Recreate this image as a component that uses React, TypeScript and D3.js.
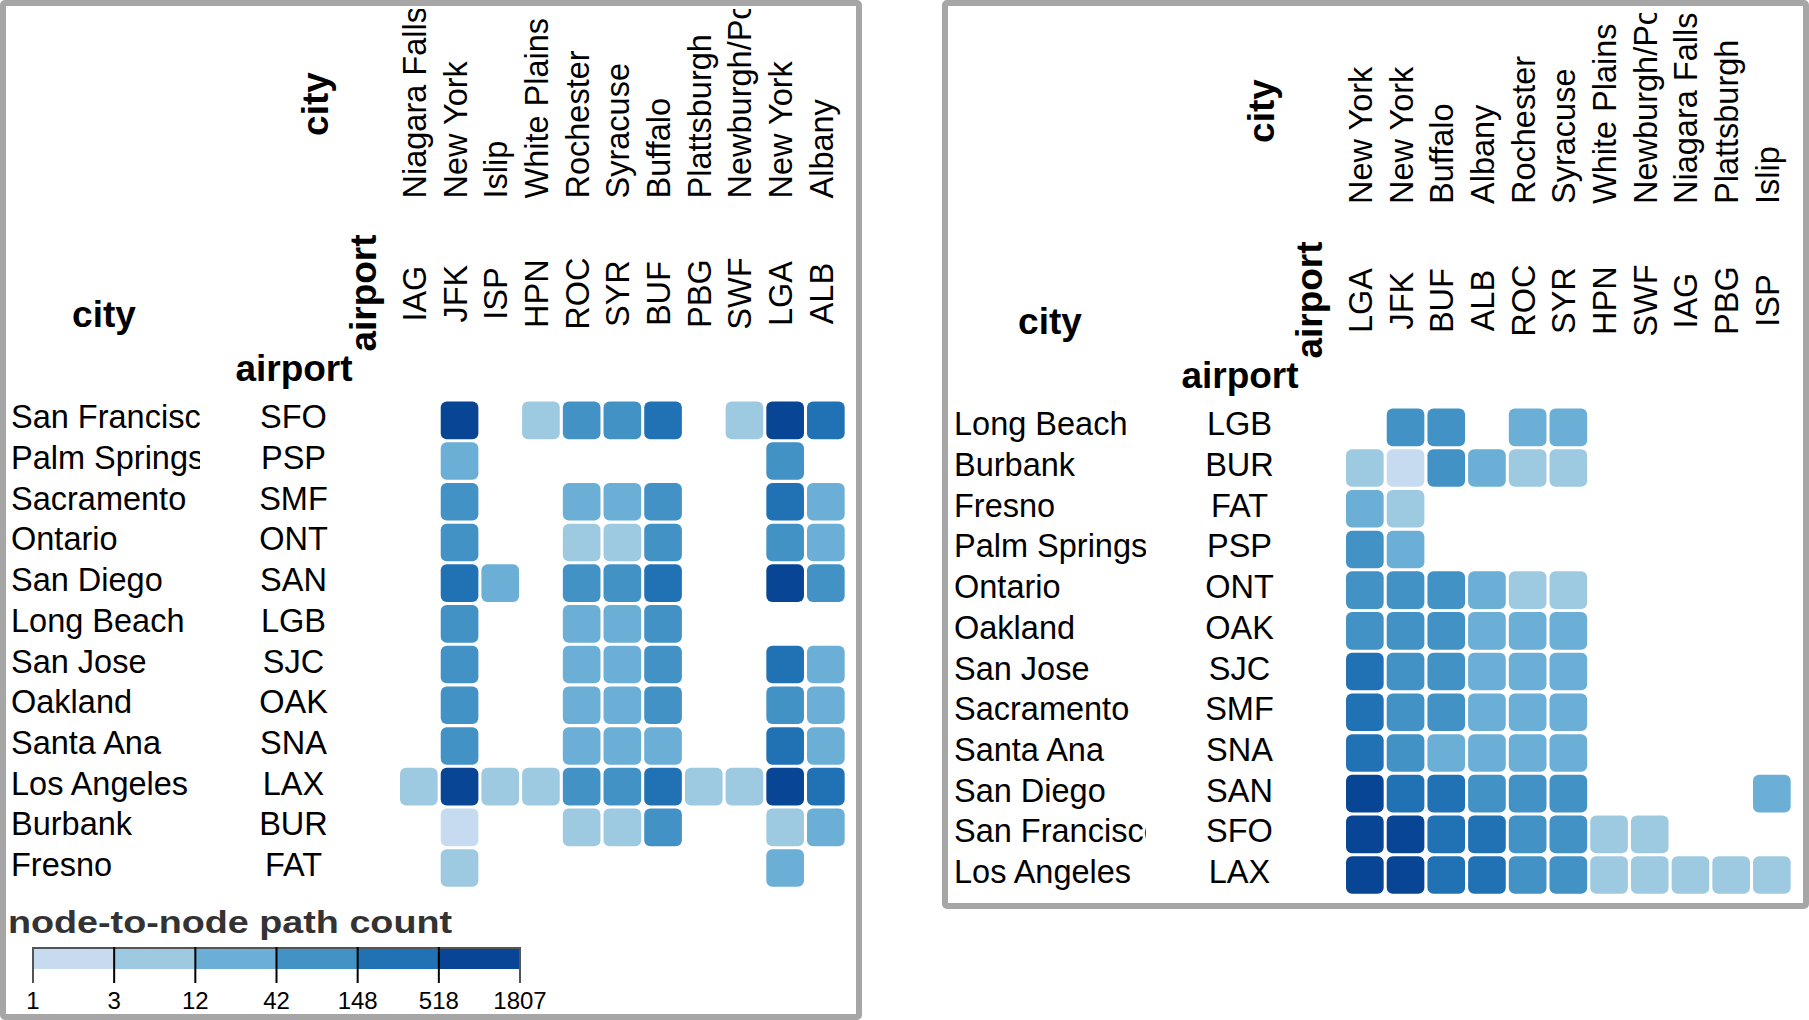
import * as d3 from "d3";

// destination airports (New York) and their cities
const nyAirports = ["LGA", "JFK", "BUF", "ALB", "ROC", "SYR", "HPN", "SWF", "IAG", "PBG", "ISP"];
const nyCities = ["New York", "New York", "Buffalo", "Albany", "Rochester", "Syracuse", "White Plains", "Newburgh/Poughkeepsie", "Niagara Falls", "Plattsburgh", "Islip"];

// origin airports (California) and their cities
const caAirports = ["LAX", "SFO", "SAN", "SNA", "SMF", "SJC", "OAK", "ONT", "PSP", "FAT", "BUR", "LGB"];
const caCities = ["Los Angeles", "San Francisco", "San Diego", "Santa Ana", "Sacramento", "San Jose", "Oakland", "Ontario", "Palm Springs", "Fresno", "Burbank", "Long Beach"];

// path counts: one row per caAirports entry, columns follow nyAirports (0 = no path)
const pathCounts = [
  [1807, 1520, 410, 330, 128, 112, 9, 7, 5, 4, 10],
  [1290, 1100, 300, 250, 96, 84, 6, 5, 0, 0, 0],
  [640, 410, 280, 130, 95, 78, 0, 0, 0, 0, 16],
  [360, 110, 36, 30, 26, 22, 0, 0, 0, 0, 0],
  [300, 92, 70, 34, 28, 24, 0, 0, 0, 0, 0],
  [270, 88, 64, 30, 25, 21, 0, 0, 0, 0, 0],
  [140, 120, 66, 32, 27, 23, 0, 0, 0, 0, 0],
  [96, 80, 58, 18, 10, 8, 0, 0, 0, 0, 0],
  [52, 24, 0, 0, 0, 0, 0, 0, 0, 0, 0],
  [20, 8, 0, 0, 0, 0, 0, 0, 0, 0, 0],
  [9, 2, 45, 14, 7, 6, 0, 0, 0, 0, 0],
  [0, 60, 50, 0, 16, 13, 0, 0, 0, 0, 0],
];

// orderings of the two views
const leftRows = ["SFO", "PSP", "SMF", "ONT", "SAN", "LGB", "SJC", "OAK", "SNA", "LAX", "BUR", "FAT"];
const leftCols = ["IAG", "JFK", "ISP", "HPN", "ROC", "SYR", "BUF", "PBG", "SWF", "LGA", "ALB"];
const rightRows = ["LGB", "BUR", "FAT", "PSP", "ONT", "OAK", "SJC", "SMF", "SNA", "SAN", "SFO", "LAX"];
const rightCols = ["LGA", "JFK", "BUF", "ALB", "ROC", "SYR", "HPN", "SWF", "IAG", "PBG", "ISP"];

// legend break values
const legendTicks = [1, 3, 12, 42, 148, 518, 1807];

const FONT = "'Liberation Sans', Arial, Helvetica, sans-serif";
const LABEL = 32.5;
const HEAD = 37;
const blues = d3.schemeBlues[7].slice(1);
const color = d3.scaleThreshold<number, string>().domain(legendTicks.slice(1, -1)).range(blues);

const count = (ca: string, ny: string) =>
  pathCounts[caAirports.indexOf(ca)][nyAirports.indexOf(ny)];

function Matrix({ id, ox, oy, rows, cols, cityX, colCityY, clipTop }) {
  const gridX = 400;
  const gridY = 401.5;
  const step = 40.7;

  const x = d3
    .scaleBand()
    .domain(cols)
    .range([gridX - 1.5, gridX - 1.5 + cols.length * step])
    .paddingInner(0.075)
    .paddingOuter(0.0375);
  const y = d3
    .scaleBand()
    .domain(rows)
    .range([gridY - 1.5, gridY - 1.5 + rows.length * step])
    .paddingInner(0.075)
    .paddingOuter(0.0375);
  const bw = x.bandwidth();

  return (
    <g transform={`translate(${ox}, ${oy})`} fontFamily={FONT}>
      <defs>
        <clipPath id={`${id}-rowclip`}>
          <rect x={0} y={0} width={gridX - 200} height={1000} />
        </clipPath>
        <clipPath id={`${id}-colclip`}>
          <rect x={0} y={clipTop} width={1000} height={1000} />
        </clipPath>
      </defs>

      {/* headers */}
      <text x={104} y={327} textAnchor="middle" fontSize={HEAD} fontWeight="bold">city</text>
      <text x={294} y={381} textAnchor="middle" fontSize={HEAD} fontWeight="bold">airport</text>
      <text transform={`translate(327.5, 104) rotate(-90)`} textAnchor="middle" fontSize={HEAD} fontWeight="bold">city</text>
      <text transform={`translate(376, 293) rotate(-90)`} textAnchor="middle" fontSize={HEAD} fontWeight="bold">airport</text>

      {/* row labels */}
      <g clipPath={`url(#${id}-rowclip)`}>
        {rows.map((r) => (
          <text key={r} x={cityX} y={y(r) + bw / 2 + 8} fontSize={LABEL}>
            {caCities[caAirports.indexOf(r)]}
          </text>
        ))}
      </g>
      {rows.map((r) => (
        <text key={r} x={293.5} y={y(r) + bw / 2 + 8} fontSize={LABEL} textAnchor="middle">
          {r}
        </text>
      ))}

      {/* column labels */}
      <g clipPath={`url(#${id}-colclip)`}>
        {cols.map((c) => (
          <text key={c} transform={`translate(${x(c) + bw / 2 + 7}, ${colCityY}) rotate(-90)`} fontSize={LABEL}>
            {nyCities[nyAirports.indexOf(c)]}
          </text>
        ))}
      </g>
      {cols.map((c) => (
        <text key={c} transform={`translate(${x(c) + bw / 2 + 7}, 293.6) rotate(-90)`} fontSize={LABEL} textAnchor="middle">
          {c}
        </text>
      ))}

      {/* cells */}
      {rows.map((r) =>
        cols.map((c) => {
          const v = count(r, c);
          if (!v) return null;
          return (
            <rect key={r + c} x={x(c)} y={y(r)} width={bw} height={y.bandwidth()} rx={6} fill={color(v)} />
          );
        })
      )}
    </g>
  );
}

function Legend() {
  const lx = d3.scalePoint().domain(legendTicks.map(String)).range([33, 520]);
  const top = 948;
  return (
    <g fontFamily={FONT}>
      <text x={8} y={933} fontSize={32} fontWeight="bold" fill="#333" textLength={444} lengthAdjust="spacingAndGlyphs">
        node-to-node path count
      </text>
      {blues.map((b, i) => (
        <rect key={b} x={lx(String(legendTicks[i]))} y={top} width={lx(String(legendTicks[i + 1])) - lx(String(legendTicks[i]))} height={21} fill={b} />
      ))}
      <line x1={33} x2={520} y1={top} y2={top} stroke="#555" strokeWidth={2} />
      {legendTicks.map((t, i) => {
        const px = lx(String(t));
        const end = i === 0 || i === legendTicks.length - 1;
        return (
          <g key={t}>
            <line x1={px} x2={px} y1={top - 1} y2={983} stroke={end ? "#555" : "#000"} strokeWidth={2} />
            <text x={px} y={1009} textAnchor="middle" fontSize={24}>
              {t}
            </text>
          </g>
        );
      })}
    </g>
  );
}

export default function App() {
  return (
    <svg width={1809} height={1020} style={{ position: "absolute", left: 0, top: 0, background: "#fff" }}>
      <rect x={3} y={3} width={856} height={1014} fill="#fff" stroke="#a6a6a6" strokeWidth={6} rx={2} />
      <rect x={945} y={3} width={861} height={903} fill="#fff" stroke="#a6a6a6" strokeWidth={6} rx={2} />
      <Matrix id="left" ox={0} oy={0} rows={leftRows} cols={leftCols} cityX={11} colCityY={198.5} clipTop={9} />
      <Matrix id="right" ox={946} oy={7} rows={rightRows} cols={rightCols} cityX={8} colCityY={197} clipTop={6} />
      <Legend />
    </svg>
  );
}
